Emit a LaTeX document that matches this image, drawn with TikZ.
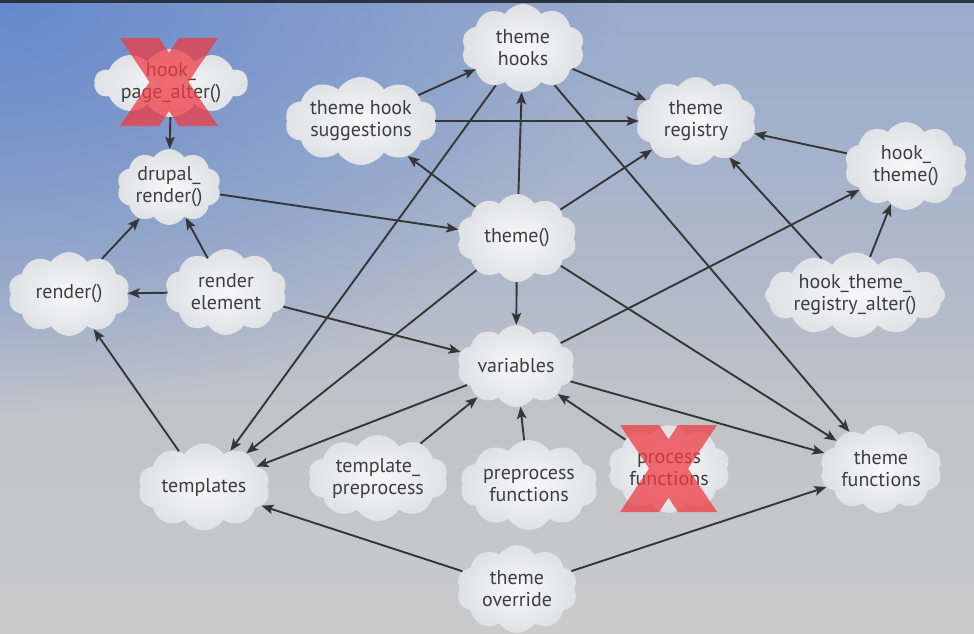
\documentclass[tikz,border=0pt]{standalone}
\usepackage{fontspec}
\setmainfont{PT Sans}
\usetikzlibrary{shapes.symbols,arrows.meta,fadings}

\definecolor{bgtop}{HTML}{9AABCC}
\definecolor{bgupper}{HTML}{A4B2CB}
\definecolor{bgmid}{HTML}{B3BBC9}
\definecolor{bglow}{HTML}{C0C3C9}
\definecolor{bgbot}{HTML}{CACACA}
\definecolor{bgblue}{HTML}{5F85CC}
\definecolor{topline}{HTML}{2B3342}
\definecolor{cloudin}{HTML}{F8F8F9}
\definecolor{cloudout}{HTML}{E0E1E5}
\definecolor{txt}{HTML}{3E3E3E}
\definecolor{linec}{HTML}{363636}
\definecolor{xred}{HTML}{EE3C44}

% base backdrop: blue-grey at the top, neutral grey below
\pgfdeclareverticalshading{backdrop}{100bp}{%
  color(0bp)=(bgbot); color(25bp)=(bgbot); color(43bp)=(bglow);
  color(51bp)=(bgmid); color(63bp)=(bgupper); color(75bp)=(bgtop);
  color(100bp)=(bgtop)}
\tikzfading[name=cornerglow, inner color=transparent!10, outer color=transparent!100]

\tikzset{
  puff/.style={cloud, cloud puffs=10, cloud puff arc=115, cloud ignores aspect,
    inner sep=0pt, draw=none, inner color=cloudin, outer color=cloudout},
  lbl/.style={font=\fontsize{20}{22}\selectfont, text=txt, align=center, inner sep=0pt},
  link/.style={draw=linec, line width=1.9pt,
    -{Stealth[length=12pt,width=9.5pt,inset=2.5pt]}},
  cross/.style={fill=xred, fill opacity=0.75}
}

\begin{document}
\begin{tikzpicture}[x=1pt,y=-1pt]
\useasboundingbox (0,0) rectangle (974,633);

% backdrop
\begin{scope}
  \clip (0,0) rectangle (974,633);
  \shade[shading=backdrop] (0,0) rectangle (974,633);
  \fill[bgblue, path fading=cornerglow] (0,0) ellipse [x radius=620, y radius=410];
  \fill[topline] (0,0) rectangle (974,2.5);
\end{scope}

% clouds
\node[puff, minimum width=153, minimum height=68, label={[lbl]center:{hook\_\\page\_alter()}}] (hpa) at (171,83) {};
\node[puff, minimum width=104, minimum height=76, label={[lbl]center:{drupal\_\\render()}}] (drender) at (169,187) {};
\node[puff, minimum width=122, minimum height=84, label={[lbl]center:{render()}}] (render) at (69,294) {};
\node[puff, minimum width=122, minimum height=86, label={[lbl]center:{render\\element}}] (relem) at (226,292) {};
\node[puff, minimum width=152, minimum height=88, label={[lbl]center:{theme hook\\suggestions}}] (thsugg) at (361,121) {};
\node[puff, minimum width=123, minimum height=88, label={[lbl]center:{theme\\hooks}}] (thooks) at (523,48) {};
\node[puff, minimum width=121, minimum height=88, label={[lbl]center:{theme\\registry}}] (treg) at (696,121) {};
\node[puff, minimum width=123, minimum height=88, label={[lbl]center:{hook\_\\theme()}}] (htheme) at (906,166) {};
\node[puff, minimum width=120, minimum height=88, label={[lbl]center:{theme()}}] (theme) at (517,238) {};
\node[puff, cloud puffs=12, minimum width=180, minimum height=85, label={[lbl]center:{hook\_theme\_\\registry\_alter()}}] (htra) at (855,295) {};
\node[puff, minimum width=118, minimum height=82, label={[lbl]center:{variables}}] (vars) at (516,366) {};
\node[puff, minimum width=132, minimum height=87, label={[lbl]center:{templates}}] (tmpl) at (204,487) {};
\node[puff, minimum width=140, minimum height=86, label={[lbl]center:{template\_\\preprocess}}] (tprep) at (378,478) {};
\node[puff, minimum width=138, minimum height=90, label={[lbl]center:{preprocess\\functions}}] (prepf) at (529,485) {};
\node[puff, minimum width=122, minimum height=88, label={[lbl]center:{process\\functions}}] (procf) at (669,469) {};
\node[puff, minimum width=122, minimum height=88, label={[lbl]center:{theme\\functions}}] (tfunc) at (881,469) {};
\node[puff, minimum width=121, minimum height=88, label={[lbl]center:{theme\\override}}] (tover) at (517,589) {};

% connectors
\draw[link] (hpa) -- (drender);
\draw[link] (drender) -- (theme);
\draw[link] (render) -- (drender);
\draw[link] (relem) -- (drender);
\draw[link] (relem) -- (render);
\draw[link] (relem) -- (vars);
\draw[link] (tmpl) -- (render);
\draw[link] (thsugg) -- (thooks);
\draw[link] (thsugg) -- (treg);
\draw[link] (thooks) -- (treg);
\draw[link] (theme) -- (thooks);
\draw[link] (theme) -- (thsugg);
\draw[link] (theme) -- (treg);
\draw[link] (theme) -- (vars);
\draw[link] (theme) -- (tmpl);
\draw[link] (theme) -- (tfunc);
\draw[link] (thooks) -- (tmpl);
\draw[link] (thooks) -- (tfunc);
\draw[link] (htheme) -- (treg);
\draw[link] (htra) -- (treg);
\draw[link] (htra) -- (htheme);
\draw[link] (vars) -- (htheme);
\draw[link] (vars) -- (tmpl);
\draw[link] (vars) -- (tfunc);
\draw[link] (tprep) -- (vars);
\draw[link] (prepf) -- (vars);
\draw[link] (procf) -- (vars);
\draw[link] (tover) -- (tmpl);
\draw[link] (tover) -- (tfunc);

% crossed-out entries
\fill[cross] (120,38) -- (159,38) -- (218,126) -- (179,126) -- cycle
             (179,38) -- (218,38) -- (159,126) -- (120,126) -- cycle;
\fill[cross] (620,425) -- (659,425) -- (717,512) -- (678,512) -- cycle
             (678,425) -- (717,425) -- (659,512) -- (620,512) -- cycle;
\end{tikzpicture}
\end{document}
